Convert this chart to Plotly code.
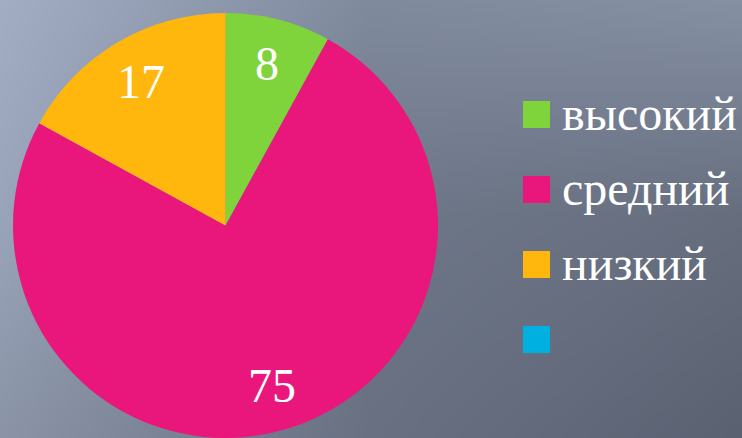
import base64, struct, zlib, math
import plotly.graph_objects as go

# ---- data ----
labels = ["высокий", "средний", "низкий", ""]
values = [8, 75, 17, 0]
colors = ["#7fd33b", "#e9177b", "#ffb70e", "#00b0e0"]

W, H = 742, 438


# ---- gradient background as a small PNG ----
def hex2rgb(h):
    h = h.lstrip("#")
    return [int(h[i:i + 2], 16) for i in (0, 2, 4)]


grid = [
    ["#a2adc4", "#808a9d", "#8590a3"],
    ["#99a4ba", "#6e7789", "#666e7e"],
    ["#8a94a6", "#687082", "#5a6272"],
]
grid = [[hex2rgb(c) for c in row] for row in grid]


def sample(u, v):
    gx, gy = u * 2, v * 2
    ix, iy = min(int(gx), 1), min(int(gy), 1)
    fx, fy = gx - ix, gy - iy
    out = []
    for k in range(3):
        a = grid[iy][ix][k] * (1 - fx) + grid[iy][ix + 1][k] * fx
        b = grid[iy + 1][ix][k] * (1 - fx) + grid[iy + 1][ix + 1][k] * fx
        out.append(int(round(a * (1 - fy) + b * fy)))
    return out


def make_png(w, h):
    raw = b""
    for y in range(h):
        raw += b"\x00"
        for x in range(w):
            raw += bytes(sample(x / (w - 1), y / (h - 1)))

    def chunk(t, d):
        c = struct.pack(">I", len(d)) + t + d
        return c + struct.pack(">I", zlib.crc32(t + d) & 0xFFFFFFFF)

    png = b"\x89PNG\r\n\x1a\n"
    png += chunk(b"IHDR", struct.pack(">IIBBBBB", w, h, 8, 2, 0, 0, 0))
    png += chunk(b"IDAT", zlib.compress(raw, 9))
    png += chunk(b"IEND", b"")
    return "data:image/png;base64," + base64.b64encode(png).decode()


bg = make_png(148, 88)

# ---- pie geometry ----
cx, r = 225.5, 212.5
cy = H - r
dom_y_top = (2 * r) / H
FONT = "Liberation Serif, Times New Roman, serif"

fig = go.Figure(
    go.Pie(
        labels=labels,
        values=values,
        sort=False,
        direction="clockwise",
        rotation=0,
        marker=dict(colors=colors, line=dict(width=0)),
        textinfo="none",
        hoverinfo="label+value",
        showlegend=False,
        domain=dict(x=[(cx - r) / W, (cx + r) / W], y=[0, dom_y_top]),
    )
)

# ---- value labels placed at slice mid-angles (computed from the data) ----
annots = []
total = sum(values)
cum = 0
for v in values:
    if v > 0:
        mid = (cum + v / 2) / total * 2 * math.pi
        rr = 0.785 * r
        px = cx + rr * math.sin(mid)
        py = cy - rr * math.cos(mid)
        annots.append(dict(xref="paper", yref="paper", x=px / W, y=1 - py / H,
                           xanchor="center", yanchor="middle", showarrow=False,
                           text=str(v),
                           font=dict(family=FONT, size=48, color="white")))
    cum += v

# ---- legend drawn from labels/colors ----
shapes = []
for i, (lab, col) in enumerate(zip(labels, colors)):
    yc = 114.5 + 75 * i
    shapes.append(dict(type="rect", xref="paper", yref="paper",
                       x0=523 / W, x1=550 / W,
                       y0=1 - (yc + 13.5) / H, y1=1 - (yc - 13.5) / H,
                       fillcolor=col, line=dict(width=0), layer="above"))
    if lab:
        annots.append(dict(xref="paper", yref="paper", x=560 / W, y=1 - (yc - 1) / H,
                           xanchor="left", yanchor="middle", showarrow=False, text=lab,
                           font=dict(family=FONT, size=48, color="white")))

fig.update_layout(
    width=W, height=H,
    margin=dict(l=0, r=0, t=0, b=0),
    paper_bgcolor="#7a8498",
    plot_bgcolor="rgba(0,0,0,0)",
    images=[dict(source=bg, xref="paper", yref="paper", x=0, y=1, sizex=1, sizey=1,
                 sizing="stretch", xanchor="left", yanchor="top", layer="below")],
    shapes=shapes,
    annotations=annots,
)

fig.write_html("out.html", config={"displayModeBar": False},
               post_script="document.body.style.margin='0';document.body.style.overflow='hidden';")
